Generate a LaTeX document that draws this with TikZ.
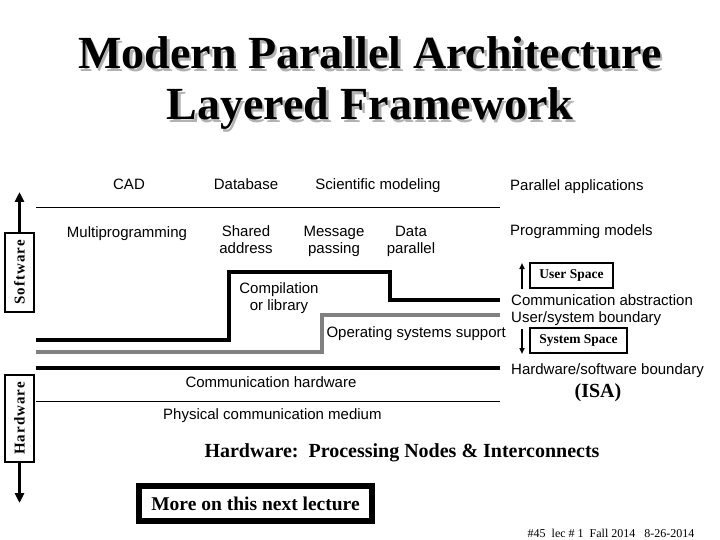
\documentclass[tikz,border=0pt]{standalone}
\usepackage{fontspec}
\setmainfont{Liberation Serif}
\setsansfont{Liberation Sans}
\newfontfamily\spacedfont[LetterSpace=7]{Liberation Serif}
\usepackage{tikz}
\usetikzlibrary{arrows.meta,positioning}
\tikzset{
  titletext/.style={font=\bfseries\fontsize{46}{50}\selectfont,inner sep=0pt,anchor=base},
  layerlbl/.style={font=\sffamily\fontsize{15}{16.5}\selectfont,inner sep=0pt,
    anchor=base,align=center},
  sidelbl/.style={layerlbl,anchor=base west,align=left},
  boldlbl/.style={font=\bfseries\fontsize{20}{22}\selectfont,inner sep=0pt,anchor=base},
  sidebox/.style={rectangle,draw,line width=1.5pt,rotate=90,inner sep=0pt,
    minimum height=29pt,font=\spacedfont\bfseries\fontsize{15}{16}\selectfont},
  spacebox/.style={rectangle,draw,line width=2pt,inner sep=0pt,minimum height=25pt,
    font=\bfseries\fontsize{13.5}{15}\selectfont},
  notebox/.style={rectangle,draw,line width=6pt,inner sep=0pt,minimum width=233pt,
    minimum height=35pt,font=\bfseries\fontsize{19.5}{21}\selectfont},
  thinline/.style={line width=1pt},
  thickline/.style={line width=4pt},
  bigarrow/.style={-{Triangle[length=10pt,width=9pt]},line width=3pt},
  smallarrow/.style={-{Triangle[length=6pt,width=5pt]},line width=2pt},
}

\begin{document}
\begin{tikzpicture}[x=1pt,y=-1pt]
  \useasboundingbox[fill=white] (0,0) rectangle (720,540);
  % title with shadow
  \node[titletext,text=black!30] (shadow1) at (372.5,71.5) {Modern Parallel Architecture};
  \node[titletext] (title1) at (370,69) {Modern Parallel Architecture};
  \node[titletext,text=black!30] (shadow2) at (372.5,122.5) {Layered Framework};
  \node[titletext] (title2) at (370,120) {Layered Framework};

  % side boxes
  \node[sidebox,minimum width=79pt] (swbox) at (19.5,272.5) {Software};
  \node[sidebox,minimum width=87pt] (hwbox) at (19.5,418.5) {Hardware};
  \coordinate (swtip) at (19.5,192);
  \coordinate (hwtip) at (19.5,503);
  \draw[bigarrow] (swbox.east) -- (swtip);
  \draw[bigarrow] (hwbox.west) -- (hwtip);

  % layer boundaries
  \draw[thinline] (36,208) -- (500,208);
  \draw[thickline] (36,340) -- (229,340) -- (229,272) -- (390,272) -- (390,300) -- (500,300);
  \draw[thickline,draw=black!50] (36,352) -- (322,352) -- (322,315) -- (500,315);
  \draw[thickline] (36,368) -- (500,368);
  \draw[thinline] (36,401) -- (500,401);

  % applications
  \node[layerlbl] (cad) at (129,190) {CAD};
  \node[layerlbl] (database) at (246,190) {Database};
  \node[layerlbl] (scimodel) at (378,190) {Scientific modeling};
  \node[sidelbl] (parapps) at (510,191) {Parallel applications};

  % programming models
  \node[layerlbl] (multiprog) at (127,237) {Multiprogramming};
  \node[layerlbl] (sharedaddr) at (246,253) {Shared\\address};
  \node[layerlbl] (msgpass) at (334,253) {Message\\passing};
  \node[layerlbl] (datapar) at (411,253) {Data\\parallel};
  \node[sidelbl] (progmodels) at (510,236) {Programming models};

  \node[layerlbl] (compile) at (279,310) {Compilation\\or library};
  \node[layerlbl,anchor=base east] (ossupport) at (506,337) {Operating systems support};

  \node[sidelbl] (commabs) at (511,305) {Communication abstraction};
  \node[sidelbl] (usersys) at (511,322) {User/system boundary};
  \node[sidelbl] (hwsw) at (511,374) {Hardware/software boundary};
  \node[boldlbl] (isa) at (598,397) {(ISA)};

  % user / system space
  \node[spacebox,minimum width=83pt] (userspace) at (571.5,275.5) {User Space};
  \node[spacebox,minimum width=97pt] (sysspace) at (578.5,340.5) {System Space};
  \coordinate (upbase) at (522,289);
  \coordinate (uptip) at (522,263);
  \coordinate (downbase) at (522,329);
  \coordinate (downtip) at (522,354);
  \draw[smallarrow] (upbase) -- (uptip);
  \draw[smallarrow] (downbase) -- (downtip);

  % hardware
  \node[layerlbl] (commhw) at (271,387) {Communication hardware};
  \node[sidelbl] (physmed) at (163,419) {Physical communication medium};
  \node[boldlbl] (hwnodes) at (402,457) {Hardware:\ \ Processing Nodes \& Interconnects};

  \node[notebox] (nextlec) at (255.5,503.5) {More on this next lecture};
  \node[font=\fontsize{12}{13}\selectfont,inner sep=0pt,anchor=base] (footer) at (611,537)
    {\#45\ \ lec \# 1\ \ Fall 2014\ \ \ 8-26-2014};
\end{tikzpicture}
\end{document}
